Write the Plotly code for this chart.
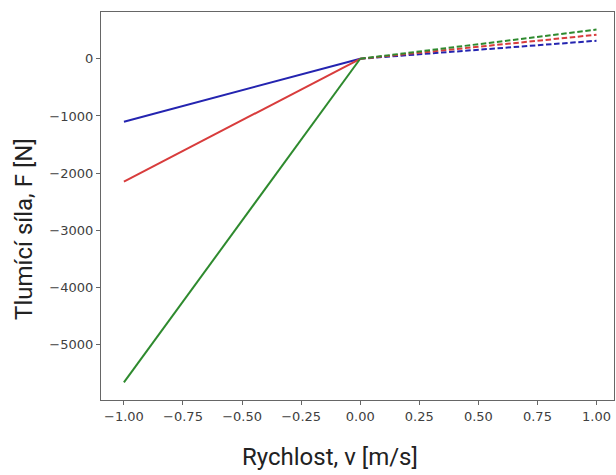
import plotly.graph_objects as go

# Velocity points
v_neg = [-1.0, 0.0]
v_pos = [0.0, 1.0]

# Damping force values (N) for three dampers
series_names = ["blue", "red", "green"]
f_neg_blue = [-1100, 0]
f_neg_red = [-2150, 0]
f_neg_green = [-5660, 0]
f_pos_blue = [0, 315]
f_pos_red = [0, 420]
f_pos_green = [0, 510]

colors = {"blue": "#2424b0", "red": "#d83c3c", "green": "#2e8a2e"}

x_ticks = [-1.0, -0.75, -0.5, -0.25, 0.0, 0.25, 0.5, 0.75, 1.0]
x_tick_labels = ["\u22121.00", "\u22120.75", "\u22120.50", "\u22120.25", "0.00", "0.25", "0.50", "0.75", "1.00"]
y_ticks = [0, -1000, -2000, -3000, -4000, -5000]
y_tick_labels = ["0", "\u22121000", "\u22122000", "\u22123000", "\u22124000", "\u22125000"]

x_title = "Rychlost, v [m/s]"
y_title = "Tlumící síla, F [N]"

neg = {"blue": f_neg_blue, "red": f_neg_red, "green": f_neg_green}
pos = {"blue": f_pos_blue, "red": f_pos_red, "green": f_pos_green}

fig = go.Figure()
for name in series_names:
    fig.add_trace(go.Scatter(x=v_neg, y=neg[name], mode="lines",
                             line=dict(color=colors[name], width=2), showlegend=False))
for name in series_names:
    fig.add_trace(go.Scatter(x=v_pos, y=pos[name], mode="lines",
                             line=dict(color=colors[name], width=2, dash="5.5px,2.6px"),
                             showlegend=False))

axis_common = dict(
    showline=True, mirror=True, linecolor="#666666", linewidth=1.3,
    ticks="outside", ticklen=4, tickwidth=1.2, tickcolor="#666666",
    showgrid=False, zeroline=False,
    tickfont=dict(family="DejaVu Sans", size=13, color="#404040"),
)

title_font = dict(family="Roboto", size=24, color="#222222")

fig.update_layout(
    width=616, height=475,
    margin=dict(l=101, r=2, t=12, b=75),
    plot_bgcolor="white", paper_bgcolor="white",
    xaxis=dict(range=[-1.097, 1.074], tickvals=x_ticks, ticktext=x_tick_labels, **axis_common),
    yaxis=dict(range=[-5968, 818], tickvals=y_ticks, ticktext=y_tick_labels, **axis_common),
    annotations=[
        dict(text=x_title, xref="paper", yref="paper", x=0.446, y=-0.147,
             xanchor="center", yanchor="middle", showarrow=False, font=title_font),
        dict(text=y_title, xref="paper", yref="paper", x=-0.150, y=0.441,
             xanchor="center", yanchor="middle", textangle=-90, showarrow=False, font=title_font),
    ],
)

fig.write_html("out.html")
